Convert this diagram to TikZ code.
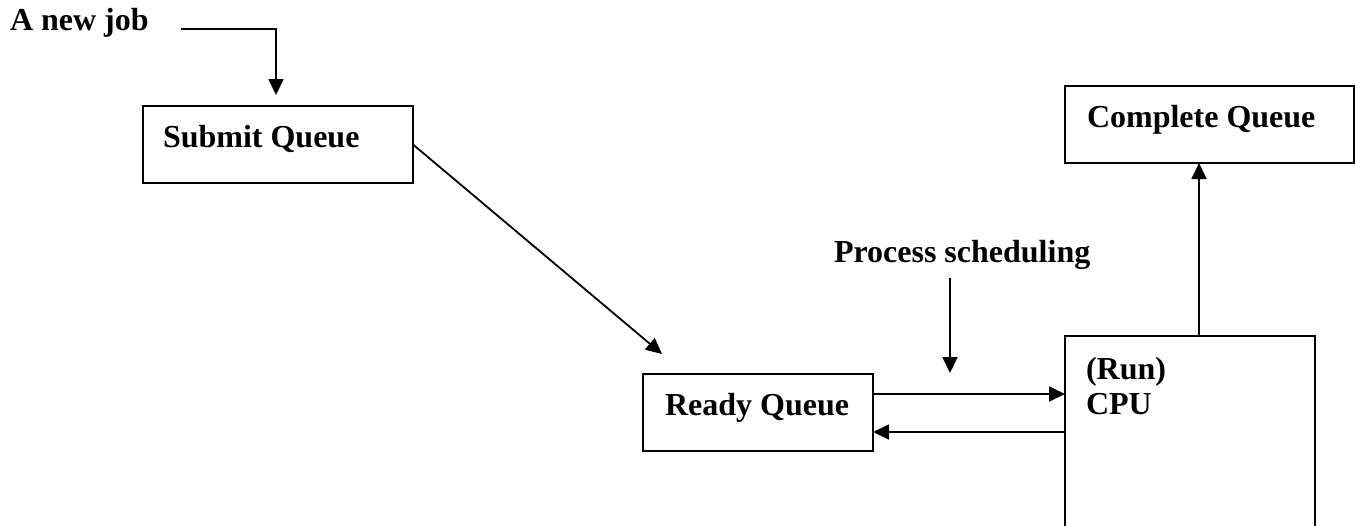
\documentclass[tikz,border=0pt]{standalone}
\usepackage{fontspec}
\setmainfont{Liberation Serif}
\usetikzlibrary{arrows.meta}
\begin{document}
\begin{tikzpicture}[x=1pt,y=-1pt,
  box/.style={draw,line width=1.8pt,inner sep=0pt,outer sep=0pt,anchor=north west},
  lbl/.style={inner sep=0pt,outer sep=0pt,anchor=base west,font=\fontsize{32}{38}\selectfont\bfseries},
  conn/.style={line width=1.8pt,-{Triangle[width=15pt,length=16pt]}}]
\useasboundingbox (0,0) rectangle (1355,525);
% boxes
\node[box,minimum width=270pt,minimum height=77pt] (submit) at (143,106) {};
\node[box,minimum width=289pt,minimum height=77pt] (complete) at (1065,86) {};
\node[box,minimum width=230pt,minimum height=77pt] (ready) at (643,374) {};
\node[box,minimum width=250pt,minimum height=260pt] (cpu) at (1065,336) {};
% texts
\node[lbl] (newjob) at (10,30) {A new job};
\node[lbl] (submitlbl) at (163,147) {Submit Queue};
\node[lbl] (completelbl) at (1087,127) {Complete Queue};
\node[lbl] (proc) at (834,262) {Process scheduling};
\node[lbl] (readylbl) at (665,415) {Ready Queue};
\node[lbl] (runlbl) at (1086,379) {(Run)};
\node[lbl] (cpulbl) at (1086,414) {CPU};
% free ends
\coordinate (njstart) at (181,29);
\coordinate (njtip) at (276,95);
\coordinate (srtip) at (662,354);
\coordinate (psstart) at (950,278);
\coordinate (pstip) at (950,373);
% connectors
\draw[conn] (njstart) -| (njtip);
\draw[conn] (submit.east) -- (srtip);
\draw[conn] (psstart) -- (pstip);
\draw[conn] (ready.east |- 0,394) -- (cpu.west |- 0,394);
\draw[conn] (cpu.west |- 0,432) -- (ready.east |- 0,432);
\draw[conn] (1199,0 |- cpu.north) -- (1199,0 |- complete.south);
\end{tikzpicture}
\end{document}
